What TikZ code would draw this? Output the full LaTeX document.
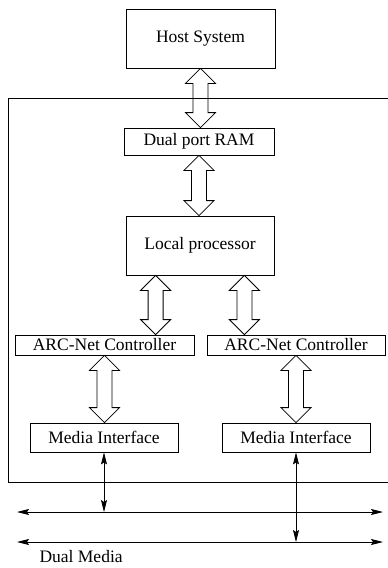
\documentclass[tikz,border=0pt]{standalone}
\usepackage{fontspec}
\setmainfont{Liberation Serif}
\usepackage{tikz}
\usetikzlibrary{arrows.meta,calc}

% hollow two-headed bus arrow from #1 (top) down to #2 (bottom)
\newcommand{\fatarrow}[2]{%
	\draw[FatArrow] let \p1=(#1), \p2=(#2) in
		(\x1,\y1) -- (\x1+15pt,\y1-15pt) -- (\x1+7.5pt,\y1-15pt) -- (\x1+7.5pt,\y2+15pt)
		-- (\x1+15pt,\y2+15pt) -- (\x1,\y2) -- (\x1-15pt,\y2+15pt) -- (\x1-7.5pt,\y2+15pt)
		-- (\x1-7.5pt,\y1-15pt) -- (\x1-15pt,\y1-15pt) -- cycle;}

\begin{document}
\begin{tikzpicture}[x=1pt, y=-1pt]
			\tikzstyle{Block}	= [rectangle, draw, line width=0.8pt, inner sep=0pt, font=\fontsize{17.5}{21}\selectfont]
			\tikzstyle{FatArrow}	= [line width=0.8pt, line join=miter]
			\tikzstyle{Link}	= [line width=0.8pt, {Stealth[length=12pt,width=6pt,inset=2pt]}-{Stealth[length=12pt,width=6pt,inset=2pt]}]

			\useasboundingbox (0,0) rectangle (388,568);

			\node (host) at (200.5, 38.5) [Block, minimum width=149pt, minimum height=59pt] {Host System};
			\node (ram) at (199, 141.5) [Block, minimum width=150pt, minimum height=27pt] {Dual port RAM};
			\node (cpu) at (200, 245.5) [Block, minimum width=148pt, minimum height=59pt] {Local processor};
			\node (arc1) at (104.5, 345) [Block, minimum width=179pt, minimum height=20pt] {ARC-Net Controller};
			\node (arc2) at (296, 345) [Block, minimum width=178pt, minimum height=20pt] {ARC-Net Controller};
			\node (mi1) at (104, 437.5) [Block, minimum width=148pt, minimum height=29pt] {Media Interface};
			\node (mi2) at (296, 437.5) [Block, minimum width=148pt, minimum height=29pt] {Media Interface};
			\node (media) at (36, 557) [anchor=west, font=\fontsize{17.5}{21}\selectfont] {Dual Media};

			\coordinate (busAw) at (17, 512);
			\coordinate (busAe) at (383, 512);
			\coordinate (busBw) at (17, 542);
			\coordinate (busBe) at (383, 542);

			% board outline, runs off the right edge
			\draw[line width=0.8pt] (390, 98) -- (8, 98) -- (8, 482) -- (390, 482);

			\fatarrow{host.south}{ram.north}
			\fatarrow{ram.south}{cpu.north}
			\fatarrow{$(cpu.south west)+(30,0)$}{arc1.north}
			\fatarrow{$(cpu.south east)+(-30,0)$}{arc2.north}
			\fatarrow{arc1.south}{mi1.north}
			\fatarrow{arc2.south}{mi2.north}

			\draw [Link] (busAw) to (busAe);
			\draw [Link] (busBw) to (busBe);
			\draw [Link] (mi1.south) to (mi1.south |- busAw);
			\draw [Link] (mi2.south) to (mi2.south |- busBw);
		\end{tikzpicture}
\end{document}
